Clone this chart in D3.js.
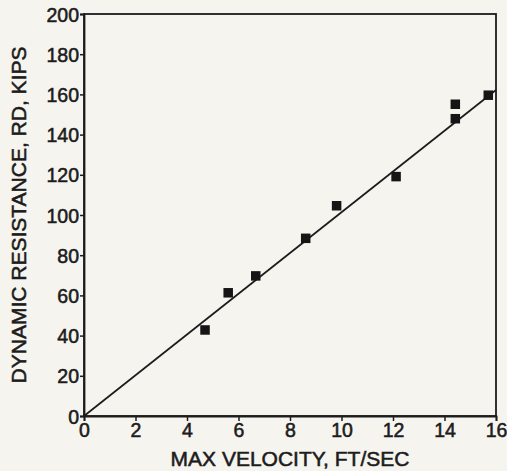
<!DOCTYPE html>
<html>
<head>
<meta charset="utf-8">
<script src="https://cdn.jsdelivr.net/npm/d3@7"></script>
<style>
  html, body { margin: 0; padding: 0; background: #f6f4ef; }
  svg { display: block; }
  text { font-family: "Liberation Sans", Arial, Helvetica, sans-serif; fill: #1c1c1c; stroke: #1c1c1c; stroke-width: 0.55px; }
</style>
</head>
<body>
<svg id="chart" width="507" height="471"></svg>
<script>
// Data
const velocity   = [4.70, 5.60, 6.67, 8.61, 9.81, 12.12, 14.42, 14.42, 15.70];
const resistance = [42.8, 61.3, 69.7, 88.4, 104.6, 119.1, 155.1, 147.9, 159.6];
const fitLineX   = [0, 16];
const fitLineY   = [0, 162.2];
const xTicks     = [0, 2, 4, 6, 8, 10, 12, 14, 16];
const yTicks     = [0, 20, 40, 60, 80, 100, 120, 140, 160, 180, 200];
const xTitle     = "MAX VELOCITY, FT/SEC";
const yTitle     = "DYNAMIC RESISTANCE, RD, KIPS";

const svg = d3.select("#chart");
const margin = { left: 84, right: 11, top: 14, bottom: 55 };
const W = 507, H = 471;
const x = d3.scaleLinear().domain([0, 16]).range([margin.left, W - margin.right]);
const y = d3.scaleLinear().domain([0, 200]).range([H - margin.bottom, margin.top]);
const ink = "#1c1c1c";

// Frame (top & right)
svg.append("rect")
  .attr("x", x(0)).attr("y", y(200))
  .attr("width", x(16) - x(0)).attr("height", y(0) - y(200))
  .attr("fill", "none").attr("stroke", ink).attr("stroke-width", 1.8);

// Axes
const xAxis = svg.append("g")
  .attr("transform", `translate(0,${y(0)})`)
  .call(d3.axisBottom(x).tickValues(xTicks).tickSize(5).tickPadding(2).tickFormat(d3.format("d")));
const yAxis = svg.append("g")
  .attr("transform", `translate(${x(0)},0)`)
  .call(d3.axisLeft(y).tickValues(yTicks).tickSize(4).tickPadding(1).tickFormat(d3.format("d")));

[xAxis, yAxis].forEach(g => {
  g.select(".domain").attr("stroke", ink).attr("stroke-width", 1.8);
  g.selectAll(".tick line").attr("stroke", ink).attr("stroke-width", 1.5);
  g.selectAll(".tick text")
    .attr("fill", ink)
    .style("font-family", "'Liberation Sans', Arial, sans-serif")
    .style("font-size", "19.5px");
});
yAxis.selectAll(".tick text").attr("dy", "0.36em");

// Fit line
svg.append("line")
  .attr("x1", x(fitLineX[0])).attr("y1", y(fitLineY[0]))
  .attr("x2", x(fitLineX[1])).attr("y2", y(fitLineY[1]))
  .attr("stroke", ink).attr("stroke-width", 1.7);

// Data points (filled squares)
const s = 9.5;
svg.append("g").selectAll("rect")
  .data(velocity.map((v, i) => [v, resistance[i]]))
  .join("rect")
  .attr("x", d => x(d[0]) - s / 2)
  .attr("y", d => y(d[1]) - s / 2)
  .attr("width", s).attr("height", s)
  .attr("fill", "#151515");

// Titles
svg.append("text")
  .attr("x", (x(0) + x(16)) / 2).attr("y", 466)
  .attr("text-anchor", "middle")
  .style("font-size", "21px")
  .text(xTitle);

svg.append("text")
  .attr("transform", `translate(26,${(y(0) + y(200)) / 2}) rotate(-90)`)
  .attr("text-anchor", "middle")
  .style("font-size", "21px")
  .text(yTitle);
</script>
</body>
</html>
